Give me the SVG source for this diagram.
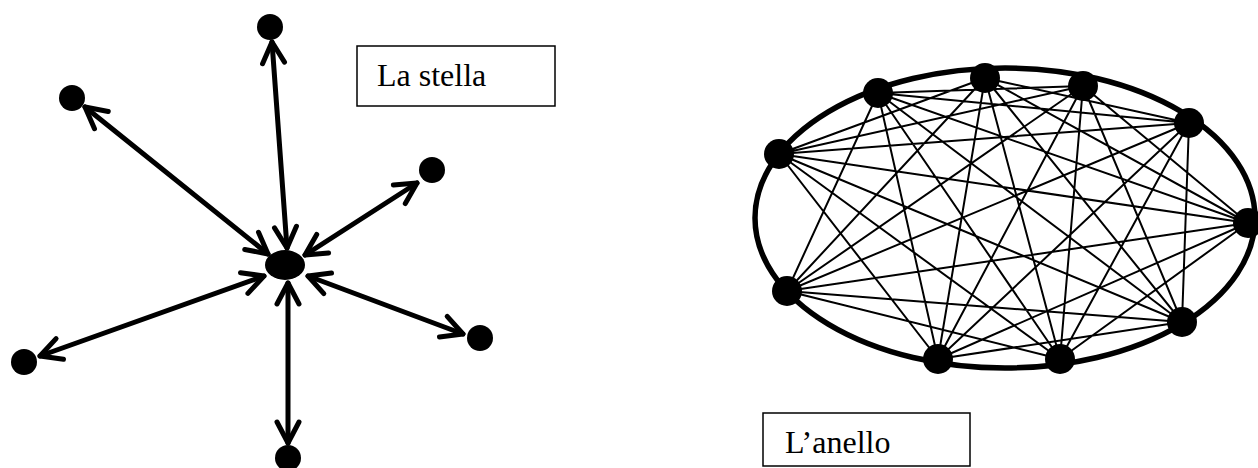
<svg xmlns="http://www.w3.org/2000/svg" width="1258" height="468" viewBox="0 0 1258 468">
<style>
.arrow{stroke:#000;stroke-width:5;stroke-linecap:round;fill:none}
.dot{fill:#000}
.chord{stroke:#000;stroke-width:2;fill:none}
.ring{stroke:#000;stroke-width:5.5;fill:none}
.box{fill:#fff;stroke:#000;stroke-width:1.5}
.lbl{font-family:"Liberation Serif","Times New Roman",serif;font-size:32px;fill:#000}
</style>
<defs>
<marker id="chev" markerUnits="userSpaceOnUse" viewBox="-28 -16 34 32" refX="0" refY="0" markerWidth="34" markerHeight="32" orient="auto-start-reverse" overflow="visible">
<path d="M-21,-11 L0,0 L-21,11" fill="none" stroke="#000" stroke-width="5" stroke-linecap="round" stroke-linejoin="round"/>
</marker>
</defs>
<g id="connectors">
<g id="star-edges">
<line class="arrow" x1="287" y1="248" x2="272" y2="42" marker-start="url(#chev)" marker-end="url(#chev)"/>
<line class="arrow" x1="268" y1="254" x2="85" y2="107" marker-start="url(#chev)" marker-end="url(#chev)"/>
<line class="arrow" x1="305" y1="255" x2="417" y2="183" marker-start="url(#chev)" marker-end="url(#chev)"/>
<line class="arrow" x1="308" y1="276" x2="463" y2="334" marker-start="url(#chev)" marker-end="url(#chev)"/>
<line class="arrow" x1="288" y1="283" x2="288" y2="443" marker-start="url(#chev)" marker-end="url(#chev)"/>
<line class="arrow" x1="264" y1="276" x2="40" y2="356" marker-start="url(#chev)" marker-end="url(#chev)"/>
</g>
<g id="ring-edges">
<ellipse class="ring" cx="1005" cy="218" rx="250" ry="150"/>
<path class="chord" d="
M779,154 L985,78 M779,154 L1083,86 M779,154 L1189,123 M779,154 L1248,223 M779,154 L1182,322 M779,154 L1060,359 M779,154 L938,359
M878,93 L1083,86 M878,93 L1189,123 M878,93 L1248,223 M878,93 L1182,322 M878,93 L1060,359 M878,93 L938,359 M878,93 L787,291
M985,78 L1189,123 M985,78 L1248,223 M985,78 L1182,322 M985,78 L1060,359 M985,78 L938,359 M985,78 L787,291
M1083,86 L1248,223 M1083,86 L1182,322 M1083,86 L1060,359 M1083,86 L938,359 M1083,86 L787,291
M1189,123 L1182,322 M1189,123 L1060,359 M1189,123 L938,359 M1189,123 L787,291
M1248,223 L1060,359 M1248,223 L938,359 M1248,223 L787,291
M1182,322 L938,359 M1182,322 L787,291
M1060,359 L787,291"/>
</g>
</g>
<g id="star-center"><ellipse class="dot" cx="285" cy="265" rx="20" ry="15"/></g>
<g id="star-top"><circle class="dot" cx="270" cy="27" r="13"/></g>
<g id="star-upper-left"><circle class="dot" cx="72" cy="98" r="13"/></g>
<g id="star-upper-right"><circle class="dot" cx="432" cy="170" r="13"/></g>
<g id="star-lower-right"><circle class="dot" cx="480" cy="338" r="13"/></g>
<g id="star-bottom"><circle class="dot" cx="288" cy="458" r="13"/></g>
<g id="star-lower-left"><circle class="dot" cx="24" cy="362" r="13"/></g>
<g id="ring-n1"><circle class="dot" cx="779" cy="154" r="15"/></g>
<g id="ring-n2"><circle class="dot" cx="878" cy="93" r="15"/></g>
<g id="ring-n3"><circle class="dot" cx="985" cy="78" r="15"/></g>
<g id="ring-n4"><circle class="dot" cx="1083" cy="86" r="15"/></g>
<g id="ring-n5"><circle class="dot" cx="1189" cy="123" r="15"/></g>
<g id="ring-n6"><circle class="dot" cx="1248" cy="223" r="15"/></g>
<g id="ring-n7"><circle class="dot" cx="1182" cy="322" r="15"/></g>
<g id="ring-n8"><circle class="dot" cx="1060" cy="359" r="15"/></g>
<g id="ring-n9"><circle class="dot" cx="938" cy="359" r="15"/></g>
<g id="ring-n10"><circle class="dot" cx="787" cy="291" r="15"/></g>
<g id="label-stella">
<rect class="box" x="357" y="46" width="198" height="60"/>
<text class="lbl" x="377" y="86">La stella</text>
</g>
<g id="label-anello">
<rect class="box" x="763" y="413" width="207" height="53"/>
<text class="lbl" x="785" y="453">L’anello</text>
</g>
</svg>
